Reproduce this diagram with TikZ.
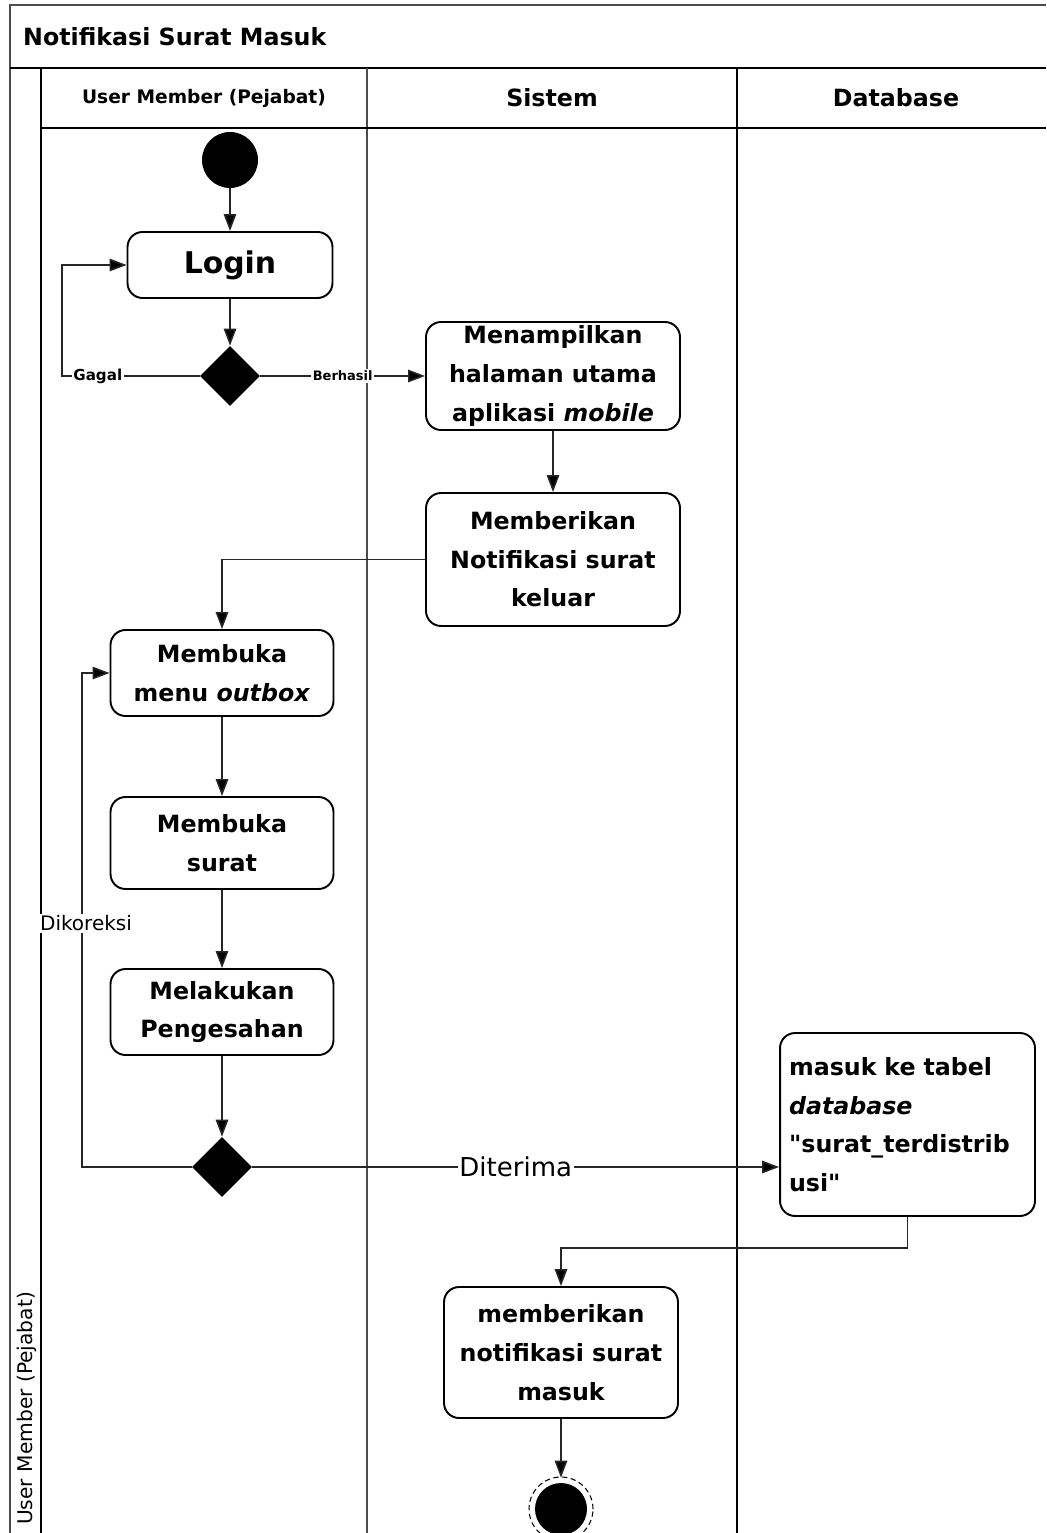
\documentclass[tikz,border=0pt]{standalone}
\usepackage{fontspec}
\setmainfont[Ligatures=TeXOff]{DejaVu Sans}
\usetikzlibrary{shapes.geometric,arrows.meta}
\begin{document}
\begin{tikzpicture}[x=0.02cm,y=-0.02cm,
  act/.style={draw=black,line width=1.1pt,rounded corners=0.3cm,align=center,
    font=\fontsize{13.5}{22}\selectfont\bfseries,inner sep=2pt},
  flow/.style={draw=black!85,line width=0.9pt,-{Triangle[length=0.34cm,width=0.25cm,fill=black]}},
  dec/.style={diamond,fill=black,minimum width=1.2cm,minimum height=1.2cm,inner sep=0pt},
  lbl/.style={fill=white,inner sep=1pt},
  hdr/.style={font=\fontsize{13.5}{16}\selectfont\bfseries}]
\useasboundingbox (0,0) rectangle (1046,1533);

% pool frame and swimlanes
\draw[line width=1pt,black!70] (10,1533) -- (10,5) -- (1046,5);
\draw[line width=1.1pt] (10,68) -- (1046,68);
\draw[line width=1.1pt] (41,68) -- (41,1533);
\draw[line width=0.6pt,black!70] (367,68) -- (367,1533);
\draw[line width=1.1pt] (737,68) -- (737,1533);
\draw[line width=1.1pt] (41,128) -- (1046,128);

% titles
\node[anchor=west,hdr] (title) at (17,37) {Notifikasi Surat Masuk};
\node[font=\fontsize{10.6}{13}\selectfont\bfseries] (h1) at (204,98) {User Member (Pejabat)};
\node[hdr] (h2) at (552,98) {Sistem};
\node[hdr] (h3) at (896,98) {Database};
\node[rotate=90,anchor=west,font=\fontsize{11.5}{14}\selectfont] (pool) at (27,1531) {User Member (Pejabat)};

% activities
\node[circle,fill=black,minimum size=1.12cm,inner sep=0pt] (start) at (230,160) {};
\node[act,minimum width=4.1cm,minimum height=1.32cm,font=\fontsize{17}{20}\selectfont\bfseries] (login) at (230,265) {Login};
\node[dec] (d1) at (230,376) {};
\node[act,minimum width=5.08cm,minimum height=2.16cm] (home) at (553,376) {Menampilkan\\halaman utama\\aplikasi \textit{mobile}};
\node[act,minimum width=5.08cm,minimum height=2.66cm] (notif) at (553,559.5) {Memberikan\\Notifikasi surat\\keluar};
\node[act,minimum width=4.46cm,minimum height=1.72cm] (outbox) at (222,673) {Membuka\\menu \textit{outbox}};
\node[act,minimum width=4.46cm,minimum height=1.84cm] (open) at (222,843) {Membuka\\surat};
\node[act,minimum width=4.46cm,minimum height=1.72cm] (sign) at (222,1012) {Melakukan\\Pengesahan};
\node[dec] (d2) at (222,1167) {};
\node[act,minimum height=3.66cm,text width=4.74cm,inner xsep=0.18cm,align=left] (db) at (907.5,1124.5)
  {masuk ke tabel\\\textit{database}\\"surat\_terdistrib\\usi"};
\node[act,minimum width=4.68cm,minimum height=2.62cm] (inmail) at (561,1352.5) {memberikan\\notifikasi surat\\masuk};
\node[circle,fill=black,minimum size=1.04cm,inner sep=0pt] (end) at (561,1509) {};
\draw[line width=0.6pt,dash pattern=on 3pt off 2pt] (end.center) circle (0.64cm);

% flows
\draw[flow] (start) -- (login);
\draw[flow] (login) -- (d1);
\draw[flow] (d1.west) -- node[lbl,pos=0.74,font=\fontsize{8.6}{10}\selectfont\bfseries] {Gagal} (62,376) |- (login.west);
\draw[flow] (d1.east) -- node[lbl,pos=0.5,font=\fontsize{7.4}{9}\selectfont\bfseries] {Berhasil} (home.west);
\draw[flow] (home) -- (notif);
\draw[flow] (notif.west) -| (outbox.north);
\draw[flow] (outbox) -- (open);
\draw[flow] (open) -- (sign);
\draw[flow] (sign) -- (d2);
\draw[flow] (d2.west) -- (82,1167) |- (outbox.west);
\draw[flow] (d2.east) -- node[lbl,pos=0.5,font=\fontsize{14.8}{17}\selectfont] {Diterima} (db.west |- d2.east);
\draw[flow] (db.south) -- (907.5,1248) -| (inmail.north);
\draw[flow,shorten >=0.1cm] (inmail) -- (end);

\node[lbl,font=\fontsize{11.4}{14}\selectfont] (fix) at (86,923) {Dikoreksi};
\end{tikzpicture}
\end{document}
